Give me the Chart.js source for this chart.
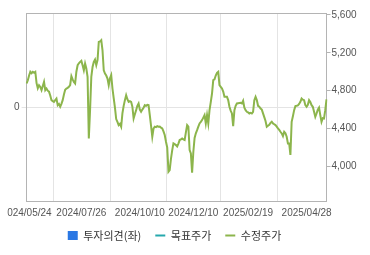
<!DOCTYPE html>
<html><head><meta charset="utf-8">
<script src="https://cdn.jsdelivr.net/npm/chart.js@4/dist/chart.umd.min.js"></script>
<style>html,body{margin:0;padding:0;background:#fff;}#wrap{width:370px;height:255px;}</style>
</head><body><div id="wrap"><canvas id="c" width="370" height="255"></canvas></div>
<script>
// KRX trading days: weekdays between these dates, minus market holidays
const startDate = '2024-05-24';
const endDate = '2025-05-23';
const holidays = ['2024-06-06','2024-08-15','2024-09-16','2024-09-17','2024-09-18','2024-10-01','2024-10-03','2024-10-09','2024-12-25','2024-12-31','2025-01-01','2025-01-27','2025-01-28','2025-01-29','2025-01-30','2025-03-03','2025-05-01','2025-05-05','2025-05-06'];
const tickLabels = ['2024/05/24','2024/07/26','2024/10/10','2024/12/10','2025/02/19','2025/04/28'];
const priceTicks = [4000,4400,4800,5200,5600];
const opinionTicks = [0];
const seriesNames = ['투자의견(좌)','목표주가','수정주가'];
const opinion = [];
const targetPrice = [];
const adjPrice = [
4876,4910,4960,5000,4985,5000,4990,5000,4880,4825,
4858,4840,4805,4850,4893,4805,4823,4800,4790,4750,
4700,4690,4682,4700,4717,4647,4660,4630,4660,4700,
4760,4810,4823,4830,4841,4860,4953,4920,4893,4876,
5000,5069,5090,5104,5115,5069,5016,5087,5034,4946,
4295,4594,4946,5050,5104,5129,5069,5122,5315,5320,
5333,5227,5016,4981,4960,4928,4858,4930,4964,4823,
4720,4620,4500,4471,4436,4450,4419,4560,4640,4700,
4753,4710,4682,4690,4682,4630,4506,4550,4594,4640,
4665,4600,4577,4600,4620,4647,4640,4650,4647,4542,
4430,4313,4400,4419,4415,4425,4419,4420,4410,4401,
4370,4331,4260,4200,3944,3961,4080,4170,4243,4235,
4225,4210,4240,4278,4285,4295,4285,4278,4360,4436,
4419,4172,4137,3933,4155,4300,4350,4383,4420,4454,
4470,4489,4515,4542,4454,4542,4454,4594,4680,4770,
4911,4920,4960,4988,4999,4858,4841,4823,4790,4735,
4735,4735,4700,4630,4590,4559,4426,4594,4640,4665,
4668,4670,4672,4665,4693,4620,4594,4577,4570,4559,
4565,4559,4577,4700,4735,4700,4640,4630,4612,4600,
4560,4520,4480,4419,4430,4440,4460,4471,4454,4445,
4436,4420,4401,4385,4366,4348,4320,4366,4350,4313,
4243,4243,4120,4471,4530,4594,4637,4640,4645,4660,
4682,4717,4705,4700,4647,4630,4650,4700,4680,4647,
4630,4577,4524,4559,4600,4622,4542,4471,4510,4506,
4594,4707];
const colors = {opinion:'#2b78e4', target:'#26a8ad', price:'#8cb54c', grid:'#e4e4e4', axis:'#b4b4b4', tick:'#555555', legend:'#333333'};

const dates = [];
(function(){
  const d = new Date(startDate + 'T00:00:00Z');
  const end = new Date(endDate + 'T00:00:00Z');
  while (d <= end) {
    const iso = d.toISOString().slice(0,10);
    const wd = d.getUTCDay();
    if (wd !== 0 && wd !== 6 && holidays.indexOf(iso) < 0) dates.push(iso.replace(/-/g,'/'));
    d.setUTCDate(d.getUTCDate() + 1);
  }
})();

const tickFont = {family:'"Liberation Sans", Arial, sans-serif', size:10};

new Chart(document.getElementById('c'), {
  data: {
    labels: dates,
    datasets: [
      {type:'bar', label:seriesNames[0], data:opinion, yAxisID:'yL', xAxisID:'x', backgroundColor:colors.opinion},
      {type:'line', label:seriesNames[1], data:targetPrice, yAxisID:'y', xAxisID:'x', borderColor:colors.target, borderWidth:2, pointRadius:0},
      {type:'line', label:seriesNames[2], data:adjPrice, yAxisID:'y', xAxisID:'x', borderColor:colors.price, borderWidth:2, pointRadius:0, tension:0, fill:false}
    ]
  },
  options: {
    responsive:false, animation:false, devicePixelRatio:1,
    layout:{padding:{top:13, right:21, bottom:4, left:0}},
    plugins:{
      tooltip:{enabled:false},
      legend:{
        position:'bottom',
        labels:{
          usePointStyle:true, pointStyleWidth:10, boxHeight:9, padding:14,
          color:colors.legend, font:{family:'"Noto Sans CJK KR", sans-serif', size:11},
          generateLabels:function(chart){
            return [
              {text:seriesNames[0], fillStyle:colors.opinion, strokeStyle:colors.opinion, lineWidth:0, pointStyle:'rect', hidden:false, datasetIndex:0, fontColor:colors.legend},
              {text:seriesNames[1], fillStyle:colors.target, strokeStyle:colors.target, lineWidth:2, pointStyle:'line', hidden:false, datasetIndex:1, fontColor:colors.legend},
              {text:seriesNames[2], fillStyle:colors.price, strokeStyle:colors.price, lineWidth:2, pointStyle:'line', hidden:false, datasetIndex:2, fontColor:colors.legend}
            ];
          }
        }
      }
    },
    scales:{
      x:{
        type:'category', position:'bottom', offset:false,
        grid:{color:colors.grid, drawTicks:false},
        border:{color:colors.axis},
        ticks:{autoSkip:false, maxRotation:0, minRotation:0, padding:6, color:colors.tick, font:tickFont,
          callback:function(v){ return dates[v]; }},
        afterBuildTicks:function(s){ s.ticks = tickLabels.map(function(l){ return {value: dates.indexOf(l)}; }); },
        afterFit:function(s){
          s.height = 15; s.paddingLeft = 0; s.paddingRight = 0;
          s._computeLabelArea = function(){ return {top: s.top, left: 7.2, bottom: s.chart.height, right: s.chart.width}; };
        }
      },
      xTop:{
        type:'category', position:'top', offset:false, display:true,
        grid:{display:false, drawTicks:false}, ticks:{display:false},
        border:{display:true, color:colors.axis},
        afterFit:function(s){ s.height = 0; s.paddingLeft = 0; s.paddingRight = 0; }
      },
      yL:{
        type:'linear', position:'left', min:-1, max:1,
        grid:{color:colors.grid, drawTicks:true, tickLength:5},
        border:{color:colors.axis},
        ticks:{padding:2, color:colors.tick, font:tickFont},
        afterBuildTicks:function(s){ s.ticks = opinionTicks.map(function(v){ return {value:v}; }); },
        afterFit:function(s){ s.width = 26.6; s.paddingTop = 0; s.paddingBottom = 0; }
      },
      y:{
        type:'linear', position:'right', min:3634, max:5621,
        grid:{drawOnChartArea:false, drawTicks:true, tickLength:4, tickColor:colors.axis},
        border:{color:colors.axis},
        ticks:{padding:1, color:colors.tick, font:tickFont,
          callback:function(v){ return v.toLocaleString('en-US'); }},
        afterBuildTicks:function(s){ s.ticks = priceTicks.map(function(v){ return {value:v}; }); },
        afterFit:function(s){
          s.width = 22.5; s.paddingTop = 0; s.paddingBottom = 0;
          s._computeLabelArea = function(){ return {top: 0, left: s.left, bottom: s.chart.height, right: s.chart.width}; };
        }
      }
    }
  }
});
</script>
</body></html>
